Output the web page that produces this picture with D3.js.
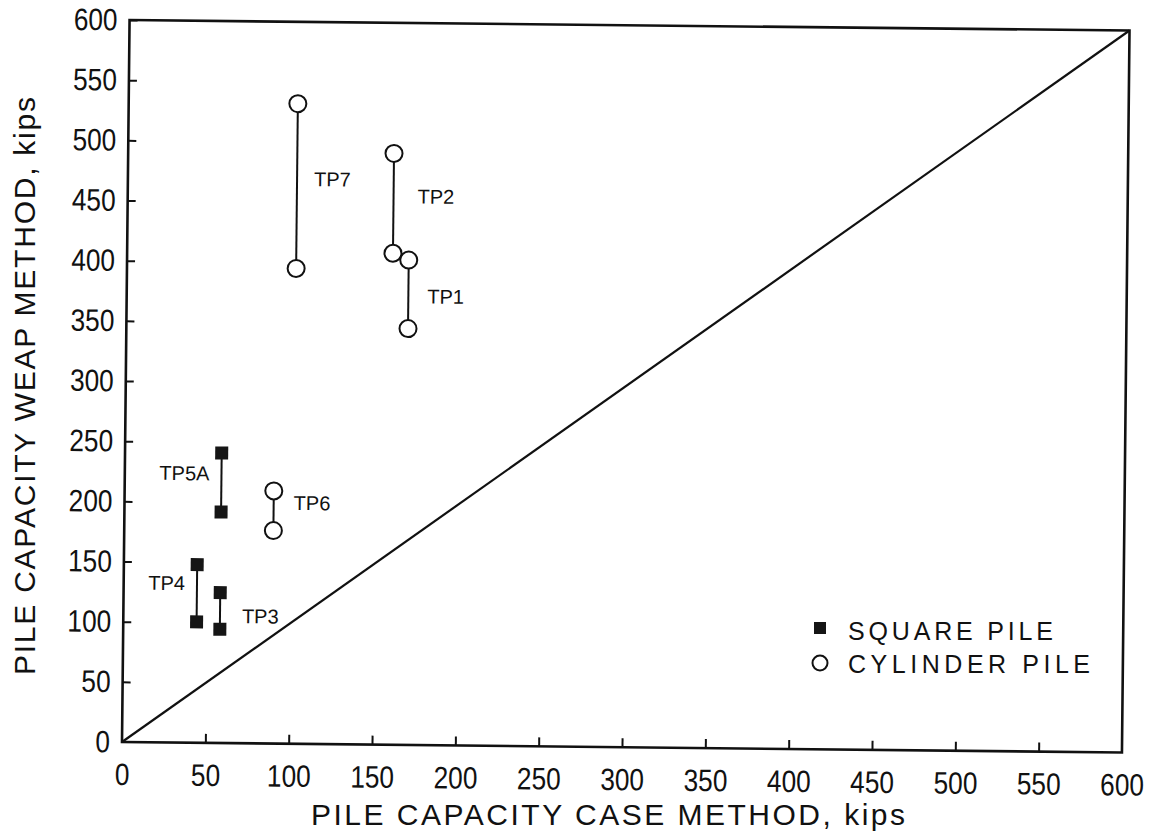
<!DOCTYPE html>
<html>
<head>
<meta charset="utf-8">
<script src="https://cdn.jsdelivr.net/npm/d3@7"></script>
<style>
  html, body { margin: 0; padding: 0; background: #fff; }
  svg { display: block; }
  text { fill: #111; }
</style>
</head>
<body>
<svg id="chart" width="1155" height="839"></svg>
<script>
// ---- data ----
const xTicks = [0, 50, 100, 150, 200, 250, 300, 350, 400, 450, 500, 550, 600];
const yTicks = [0, 50, 100, 150, 200, 250, 300, 350, 400, 450, 500, 550, 600];
const piles    = ["TP1", "TP2", "TP3", "TP4", "TP5A", "TP6", "TP7"];
const pileType = ["cylinder", "cylinder", "square", "square", "square", "cylinder", "cylinder"];
const caseCap  = [169, 159.5, 58, 44, 58, 89.5, 101.5];     // CASE method, kips
const weapHigh = [403, 491.5, 125, 148, 241, 210, 532];     // WEAP method upper, kips
const weapLow  = [346, 408.5, 94.5, 100.5, 192, 177, 395];  // WEAP method lower, kips
const legendLabels = ["SQUARE PILE", "CYLINDER PILE"];
const xTitle = "PILE CAPACITY CASE METHOD, kips";
const yTitle = "PILE CAPACITY WEAP METHOD, kips";

// ---- label placement (style) ----
const labelPlace = {
  TP1:  { anchor: "start", dx: 19,  dy: 9 },
  TP2:  { anchor: "start", dx: 24,  dy: 0 },
  TP3:  { anchor: "start", dx: 22,  dy: 12 },
  TP4:  { anchor: "end",   dx: -12, dy: -3 },
  TP5A: { anchor: "end",   dx: -12, dy: -2 },
  TP6:  { anchor: "start", dx: 20,  dy: -1 },
  TP7:  { anchor: "start", dx: 17,  dy: 0 }
};

const font = "'Liberation Sans', Arial, sans-serif";

const svg = d3.select("#chart");
const ox = 122, oy = 742, pw = 1000, ph = 722, angle = 0.6;

const g = svg.append("g").attr("transform", `translate(${ox},${oy}) rotate(${angle})`);

const x = d3.scaleLinear().domain([0, 600]).range([0, pw]);
const y = d3.scaleLinear().domain([0, 600]).range([0, -ph]);

// axes
const xAxis = d3.axisBottom(x).tickValues(xTicks).tickSize(-9).tickPadding(21).tickFormat(d3.format("d"));
const yAxis = d3.axisLeft(y).tickValues(yTicks).tickSize(-8).tickPadding(12).tickFormat(d3.format("d"));

const gx = g.append("g").call(xAxis);
const gy = g.append("g").call(yAxis);
[gx, gy].forEach(a => {
  a.select(".domain").remove();
  a.selectAll(".tick line").attr("stroke", "#111").attr("stroke-width", 2);
  a.selectAll(".tick text")
    .attr("font-family", font).attr("font-size", 31).attr("fill", "#111")
    .attr("textLength", d => String(d).length * 14.6)
    .attr("lengthAdjust", "spacingAndGlyphs");
});
gy.selectAll(".tick").filter(d => d === 0).select("line").remove();
gx.selectAll(".tick").filter(d => d === 0 || d === 600).select("line").remove();

// frame
g.append("rect")
  .attr("x", x(0)).attr("y", y(600))
  .attr("width", x(600) - x(0)).attr("height", y(0) - y(600))
  .attr("fill", "none").attr("stroke", "#111").attr("stroke-width", 2.6);

// 1:1 line
g.append("line")
  .attr("x1", x(0)).attr("y1", y(0)).attr("x2", x(600)).attr("y2", y(600))
  .attr("stroke", "#111").attr("stroke-width", 2.2);

const rows = piles.map((p, i) => ({ name: p, type: pileType[i], cx: caseCap[i], hi: weapHigh[i], lo: weapLow[i] }));

// connectors
g.selectAll("line.conn").data(rows).join("line")
  .attr("class", "conn")
  .attr("x1", d => x(d.cx)).attr("x2", d => x(d.cx))
  .attr("y1", d => y(d.hi)).attr("y2", d => y(d.lo))
  .attr("stroke", "#111").attr("stroke-width", 2);

// markers
const pts = [];
rows.forEach(d => { pts.push({ type: d.type, cx: d.cx, v: d.hi }); pts.push({ type: d.type, cx: d.cx, v: d.lo }); });

g.selectAll("circle.pt").data(pts.filter(p => p.type === "cylinder")).join("circle")
  .attr("class", "pt")
  .attr("cx", d => x(d.cx)).attr("cy", d => y(d.v)).attr("r", 8.5)
  .attr("fill", "#fff").attr("stroke", "#111").attr("stroke-width", 2);

const sq = 13;
g.selectAll("rect.pt").data(pts.filter(p => p.type === "square")).join("rect")
  .attr("class", "pt")
  .attr("x", d => x(d.cx) - sq / 2).attr("y", d => y(d.v) - sq / 2)
  .attr("width", sq).attr("height", sq)
  .attr("fill", "#151515");

// pile labels
g.selectAll("text.lbl").data(rows).join("text")
  .attr("class", "lbl")
  .attr("x", d => x(d.cx) + labelPlace[d.name].dx)
  .attr("y", d => y((d.hi + d.lo) / 2) + labelPlace[d.name].dy)
  .attr("text-anchor", d => labelPlace[d.name].anchor)
  .attr("font-family", font).attr("font-size", 20)
  .text(d => d.name);

// legend
const leg = svg.append("g");
leg.append("rect").attr("x", 820 - 6).attr("y", 628 - 6).attr("width", 12).attr("height", 12).attr("fill", "#151515");
leg.append("circle").attr("cx", 820).attr("cy", 663).attr("r", 7.5).attr("fill", "#fff").attr("stroke", "#111").attr("stroke-width", 2);
leg.append("text").attr("x", 848).attr("y", 640).attr("font-family", font).attr("font-size", 25)
  .attr("textLength", 205).attr("lengthAdjust", "spacing").text(legendLabels[0]);
leg.append("text").attr("x", 848).attr("y", 673).attr("font-family", font).attr("font-size", 25)
  .attr("textLength", 242).attr("lengthAdjust", "spacing").text(legendLabels[1]);

// axis titles
svg.append("text").attr("x", 311).attr("y", 825)
  .attr("font-family", font).attr("font-size", 30)
  .attr("textLength", 594).attr("lengthAdjust", "spacing").text(xTitle);
svg.append("text").attr("transform", "translate(35,675) rotate(-90)")
  .attr("font-family", font).attr("font-size", 30)
  .attr("textLength", 578).attr("lengthAdjust", "spacing").text(yTitle);
</script>
</body>
</html>
